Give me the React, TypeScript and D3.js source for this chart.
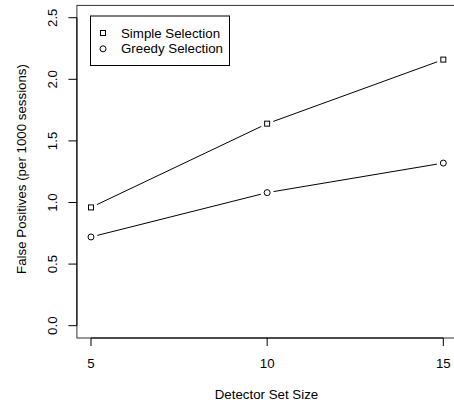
import React from "react";
import * as d3 from "d3";

const detectorSizes = [5, 10, 15];
const simpleSelection = [0.96, 1.64, 2.16];
const greedySelection = [0.72, 1.08, 1.32];
const xTicks = [5, 10, 15];
const yTicks = [0, 0.5, 1, 1.5, 2, 2.5];
const legendLabels = ["Simple Selection", "Greedy Selection"];

const W = 454;
const H = 407;
const FONT = "'Liberation Sans', Arial, Helvetica, sans-serif";
const FS = 13.3;

export default function App() {
  const x = d3.scaleLinear().domain([4.6, 15.4]).range([76.9, 457.4]);
  const y = d3.scaleLinear().domain([-0.1, 2.6]).range([338, 5.4]);
  const gap = 6.5;

  const segments = (vals: number[]) => {
    const out: { x1: number; y1: number; x2: number; y2: number }[] = [];
    for (let i = 0; i < vals.length - 1; i++) {
      const ax = x(detectorSizes[i]);
      const ay = y(vals[i]);
      const bx = x(detectorSizes[i + 1]);
      const by = y(vals[i + 1]);
      const dx = bx - ax;
      const dy = by - ay;
      const len = Math.sqrt(dx * dx + dy * dy);
      const ux = dx / len;
      const uy = dy / len;
      out.push({ x1: ax + ux * gap, y1: ay + uy * gap, x2: bx - ux * gap, y2: by - uy * gap });
    }
    return out;
  };

  const sq = 5;
  const r = 3;
  const [x0, x1] = x.range();
  const [y0, y1] = y.range();

  return (
    <>
      <style>{"body{margin:0}"}</style>
      <svg width={W} height={H} style={{ display: "block", background: "#fff" }} fontFamily={FONT}>
        <rect x={0} y={0} width={W} height={H} fill="#fff" />
        {/* plot box */}
        <rect x={x0} y={y1} width={x1 - x0} height={y0 - y1} fill="none" stroke="#333" strokeWidth={1} />
        {/* y axis */}
        <line x1={x0} x2={x0} y1={y(0)} y2={y(2.5)} stroke="#000" />
        {yTicks.map((t) => (
          <g key={"yt" + t}>
            <line x1={x0 - 8.5} x2={x0} y1={y(t)} y2={y(t)} stroke="#000" />
            <text
              transform={`translate(${52.5},${y(t)}) rotate(-90)`}
              textAnchor="middle"
              dominantBaseline="central"
              fontSize={FS}
              fill="#000"
            >
              {t.toFixed(1)}
            </text>
          </g>
        ))}
        {/* x axis */}
        <line x1={x(5)} x2={x(15)} y1={y0} y2={y0} stroke="#000" />
        {xTicks.map((t) => (
          <g key={"xt" + t}>
            <line x1={x(t)} x2={x(t)} y1={y0} y2={y0 + 8} stroke="#000" />
            <text x={x(t)} y={y0 + 29.5} textAnchor="middle" fontSize={FS} fill="#000">
              {t}
            </text>
          </g>
        ))}
        {/* axis titles */}
        <text x={266.5} y={399} textAnchor="middle" fontSize={FS} fill="#000">
          Detector Set Size
        </text>
        <text
          transform={`translate(${21},${169}) rotate(-90)`}
          textAnchor="middle"
          dominantBaseline="central"
          fontSize={FS}
          fill="#000"
        >
          False Positives (per 1000 sessions)
        </text>
        {/* series lines */}
        {segments(simpleSelection).map((s, i) => (
          <line key={"sl" + i} {...s} stroke="#000" strokeWidth={1} />
        ))}
        {segments(greedySelection).map((s, i) => (
          <line key={"gl" + i} {...s} stroke="#000" strokeWidth={1} />
        ))}
        {/* points */}
        {simpleSelection.map((v, i) => (
          <rect
            key={"sp" + i}
            x={x(detectorSizes[i]) - sq / 2}
            y={y(v) - sq / 2}
            width={sq}
            height={sq}
            fill="none"
            stroke="#000"
          />
        ))}
        {greedySelection.map((v, i) => (
          <circle key={"gp" + i} cx={x(detectorSizes[i])} cy={y(v)} r={r} fill="none" stroke="#000" />
        ))}
        {/* legend */}
        <rect x={90.5} y={16} width={139} height={49.5} fill="#fff" stroke="#000" />
        <rect x={103 - sq / 2} y={33 - sq / 2} width={sq} height={sq} fill="none" stroke="#000" />
        <circle cx={103} cy={48.8} r={r} fill="none" stroke="#000" />
        <text x={121} y={33} dominantBaseline="central" fontSize={FS} fill="#000">
          {legendLabels[0]}
        </text>
        <text x={121} y={48.8} dominantBaseline="central" fontSize={FS} fill="#000">
          {legendLabels[1]}
        </text>
      </svg>
    </>
  );
}
